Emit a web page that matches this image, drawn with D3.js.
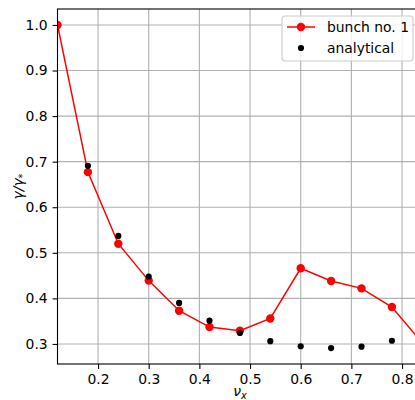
<!DOCTYPE html>
<html>
<head>
<meta charset="utf-8">
<script src="https://cdn.jsdelivr.net/npm/d3@7"></script>
<style>
  html, body { margin: 0; padding: 0; background: #fff; }
  svg { display: block; font-family: "DejaVu Sans", sans-serif; }
</style>
</head>
<body>
<svg id="chart" width="415" height="400"></svg>
<script>
// Tune values and growth-rate ratios
const nuBunch = [0.12, 0.18, 0.24, 0.30, 0.36, 0.42, 0.48, 0.54, 0.60, 0.66, 0.72, 0.78, 0.84];
const gammaBunch = [1.0, 0.677, 0.520, 0.439, 0.373, 0.337, 0.329, 0.356, 0.466, 0.438, 0.422, 0.381, 0.302];
const nuAnalytical = [0.18, 0.24, 0.30, 0.36, 0.42, 0.48, 0.54, 0.60, 0.66, 0.72, 0.78];
const gammaAnalytical = [0.691, 0.537, 0.448, 0.390, 0.351, 0.324, 0.306, 0.295, 0.291, 0.294, 0.307];
const xTicks = [0.2, 0.3, 0.4, 0.5, 0.6, 0.7, 0.8];
const yTicks = [0.3, 0.4, 0.5, 0.6, 0.7, 0.8, 0.9, 1.0];
const seriesNames = ["bunch no. 1", "analytical"];

const svg = d3.select("#chart");
const mLeft = 57.5, mRight = 422.3, mTop = 9, mBottom = 364;
const fs = 13.9;

const x = d3.scaleLinear().domain([0.12, 0.84]).range([mLeft, mRight]);
const y = d3.scaleLinear().domain([0.256, 1.035]).range([mBottom, mTop]);

svg.append("defs").append("clipPath").attr("id", "plotclip")
  .append("rect").attr("x", mLeft).attr("y", mTop)
  .attr("width", mRight - mLeft).attr("height", mBottom - mTop);

// grid
const grid = svg.append("g");
grid.selectAll("line.gx").data(xTicks).join("line")
  .attr("x1", d => x(d)).attr("x2", d => x(d))
  .attr("y1", mTop).attr("y2", mBottom)
  .attr("stroke", "#b0b0b0").attr("stroke-width", 1.1);
grid.selectAll("line.gy").data(yTicks).join("line")
  .attr("y1", d => y(d)).attr("y2", d => y(d))
  .attr("x1", mLeft).attr("x2", mRight)
  .attr("stroke", "#b0b0b0").attr("stroke-width", 1.1);

// data
const plot = svg.append("g").attr("clip-path", "url(#plotclip)");
const line = d3.line().x((d, i) => x(nuBunch[i])).y(d => y(d));
plot.append("path").datum(gammaBunch)
  .attr("d", line).attr("fill", "none")
  .attr("stroke", "red").attr("stroke-width", 1.5);
plot.selectAll("circle.b").data(gammaBunch).join("circle")
  .attr("cx", (d, i) => x(nuBunch[i])).attr("cy", d => y(d))
  .attr("r", 4.2).attr("fill", "red");
plot.selectAll("circle.a").data(gammaAnalytical).join("circle")
  .attr("cx", (d, i) => x(nuAnalytical[i])).attr("cy", d => y(d))
  .attr("r", 3.1).attr("fill", "black");

// axes
const xAxis = d3.axisBottom(x).tickValues(xTicks).tickFormat(d3.format(".1f"))
  .tickSizeOuter(0).tickSize(4.9).tickPadding(4.9);
const gx = svg.append("g").attr("transform", `translate(0,${mBottom})`).call(xAxis);
const yAxis = d3.axisLeft(y).tickValues(yTicks).tickFormat(d3.format(".1f"))
  .tickSizeOuter(0).tickSize(4.9).tickPadding(4.9);
const gy = svg.append("g").attr("transform", `translate(${mLeft},0)`).call(yAxis);
[gx, gy].forEach(g => {
  g.select(".domain").remove();
  g.selectAll("line").attr("stroke", "#000").attr("stroke-width", 1.1);
  g.selectAll("text").attr("font-size", fs).attr("fill", "#000")
    .attr("font-family", "DejaVu Sans");
});

// spines
svg.append("rect").attr("x", mLeft).attr("y", mTop)
  .attr("width", mRight - mLeft).attr("height", mBottom - mTop)
  .attr("fill", "none").attr("stroke", "#000").attr("stroke-width", 1.1);

// axis labels
const xl = svg.append("text").attr("x", (mLeft + mRight) / 2).attr("y", 396)
  .attr("text-anchor", "middle").attr("font-size", fs).attr("font-family", "DejaVu Sans");
xl.append("tspan").attr("font-style", "italic").text("ν");
xl.append("tspan").attr("font-style", "italic").attr("font-size", fs * 0.7)
  .attr("dy", 3).text("x");

const yl = svg.append("text")
  .attr("transform", `translate(23,${(mTop + mBottom) / 2}) rotate(-90)`)
  .attr("text-anchor", "middle").attr("font-size", fs).attr("font-family", "DejaVu Sans");
yl.append("tspan").attr("font-style", "italic").text("γ/γ");
yl.append("tspan").attr("font-size", fs * 0.7).attr("dy", 3).text("*");

// legend
const lg = svg.append("g");
lg.append("rect").attr("x", 282).attr("y", 16).attr("width", 131).attr("height", 45)
  .attr("rx", 3).attr("fill", "#fff").attr("fill-opacity", 0.8)
  .attr("stroke", "#cccccc").attr("stroke-width", 1.1);
lg.append("line").attr("x1", 287).attr("x2", 315).attr("y1", 27).attr("y2", 27)
  .attr("stroke", "red").attr("stroke-width", 1.5);
lg.append("circle").attr("cx", 301).attr("cy", 27).attr("r", 4.2).attr("fill", "red");
lg.append("circle").attr("cx", 301).attr("cy", 48).attr("r", 3.1).attr("fill", "black");
lg.selectAll("text").data(seriesNames).join("text")
  .attr("x", 327).attr("y", (d, i) => 32 + i * 21)
  .attr("font-size", fs).attr("font-family", "DejaVu Sans").text(d => d);
</script>
</body>
</html>
